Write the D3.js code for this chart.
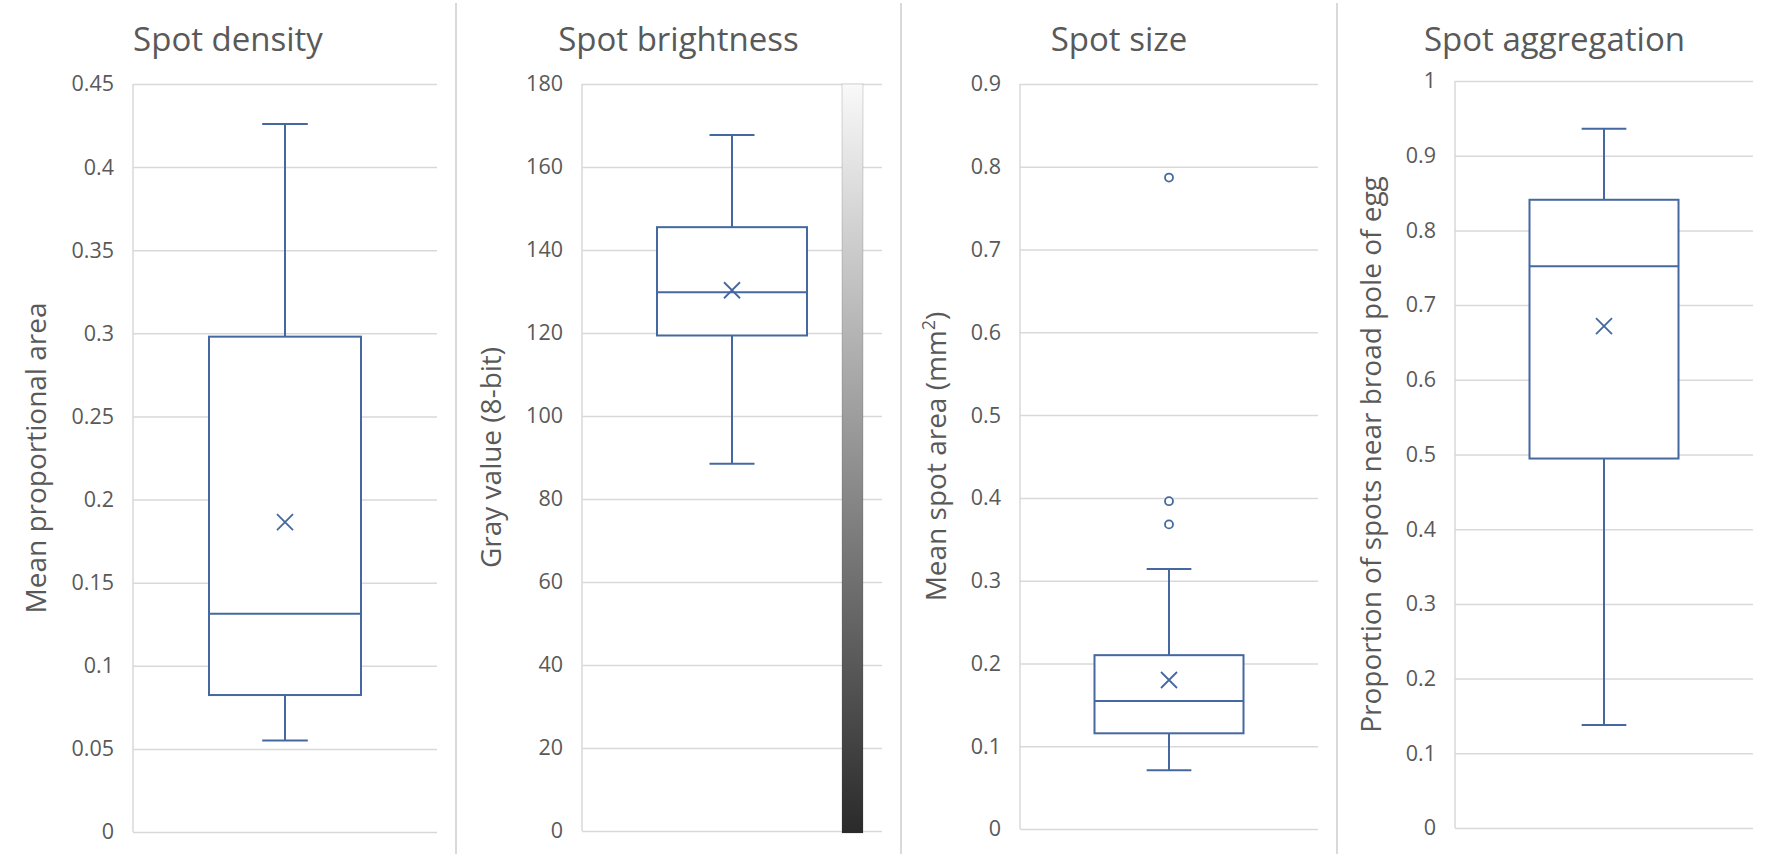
<!DOCTYPE html>
<html>
<head>
<meta charset="utf-8">
<script src="https://cdn.jsdelivr.net/npm/d3@7"></script>
<style>
  html, body { margin: 0; padding: 0; background: #ffffff; }
  svg { display: block; }
</style>
</head>
<body>
<svg id="chart" width="1772" height="860"></svg>
<script>
// ---------------- DATA ----------------
const panelTitles = ["Spot density", "Spot brightness", "Spot size", "Spot aggregation"];
const yAxisTitles = ["Mean proportional area", "Gray value (8-bit)", "Mean spot area (mm2)", "Proportion of spots near broad pole of egg"];
const tickLabels = [
  ["0", "0.05", "0.1", "0.15", "0.2", "0.25", "0.3", "0.35", "0.4", "0.45"],
  ["0", "20", "40", "60", "80", "100", "120", "140", "160", "180"],
  ["0", "0.1", "0.2", "0.3", "0.4", "0.5", "0.6", "0.7", "0.8", "0.9"],
  ["0", "0.1", "0.2", "0.3", "0.4", "0.5", "0.6", "0.7", "0.8", "0.9", "1"]
];
const whiskerLow  = [0.055, 88.5, 0.071, 0.138];
const quartile1   = [0.0824, 119.4, 0.1156, 0.4946];
const medians     = [0.1313, 129.8, 0.1546, 0.752];
const quartile3   = [0.298, 145.5, 0.21, 0.841];
const whiskerHigh = [0.426, 167.7, 0.314, 0.936];
const means       = [0.1864, 130.3, 0.18, 0.672];
const outliers    = [[], [], [0.787, 0.396, 0.368], []];

// ---------------- LAYOUT ----------------
const regionEdges = [0, 456, 901, 1337, 1772];
const plotLeft   = [133, 582, 1020, 1455];
const plotRight  = [437, 882, 1318, 1753];
const plotTop    = [84, 84, 84, 81];
const plotBottom = [832, 831, 829, 828];

const boxColor = "#44689f";
const gridColor = "#d9d9d9";
const textColor = "#595959";
const font = "'Open Sans', 'Noto Sans', sans-serif";

const svg = d3.select("#chart");

// gradient for the brightness scale bar
const defs = svg.append("defs");
const grad = defs.append("linearGradient").attr("id", "grayGrad")
  .attr("x1", 0).attr("y1", 0).attr("x2", 0).attr("y2", 1);
grad.append("stop").attr("offset", "0%").attr("stop-color", "#f9f9f9");
grad.append("stop").attr("offset", "100%").attr("stop-color", "#2a2a2a");

// separators between panels
[1, 2, 3].forEach(i => {
  svg.append("line")
    .attr("x1", regionEdges[i]).attr("x2", regionEdges[i])
    .attr("y1", 3).attr("y2", 854)
    .attr("stroke", gridColor).attr("stroke-width", 2);
});

panelTitles.forEach((title, i) => {
  const g = svg.append("g");
  const ticks = tickLabels[i];
  const maxV = +ticks[ticks.length - 1];
  const y = d3.scaleLinear().domain([0, maxV]).range([plotBottom[i], plotTop[i]]);
  const x = d3.scaleBand().domain([title]).range([plotLeft[i], plotRight[i]])
    .paddingInner(0).paddingOuter(0.5);
  const width = plotRight[i] - plotLeft[i];

  // title
  g.append("text")
    .attr("x", (regionEdges[i] + regionEdges[i + 1]) / 2)
    .attr("y", 51)
    .attr("text-anchor", "middle")
    .attr("font-family", font)
    .attr("font-size", 33)
    .attr("fill", textColor)
    .text(title);

  // y axis with gridlines
  const axis = d3.axisLeft(y)
    .tickValues(ticks.map(Number))
    .tickFormat((d, k) => ticks[k])
    .tickSize(-width)
    .tickPadding(19);
  const ag = g.append("g").attr("transform", `translate(${plotLeft[i]},0)`).call(axis);
  ag.select(".domain").remove();
  ag.selectAll(".tick line").attr("stroke", gridColor).attr("stroke-width", 1.5);
  ag.selectAll(".tick text")
    .attr("font-family", font).attr("font-size", 21.5).attr("fill", textColor);

  // vertical axis line
  g.append("line")
    .attr("x1", plotLeft[i]).attr("x2", plotLeft[i])
    .attr("y1", y(maxV)).attr("y2", y(0))
    .attr("stroke", gridColor).attr("stroke-width", 1.5);

  // axis title
  let minLabelX = Infinity;
  ag.selectAll(".tick text").each(function () {
    const b = this.getBBox();
    minLabelX = Math.min(minLabelX, plotLeft[i] + b.x);
  });
  const tx = minLabelX - 25;
  const ty = (y(0) + y(maxV)) / 2;
  const t = g.append("text")
    .attr("transform", `translate(${tx},${ty}) rotate(-90)`)
    .attr("text-anchor", "middle")
    .attr("font-family", font)
    .attr("font-size", 28)
    .attr("fill", textColor);
  const label = yAxisTitles[i];
  if (label.endsWith("(mm2)")) {
    t.append("tspan").text(label.slice(0, -2));
    t.append("tspan").attr("font-size", 18).attr("dy", -11).text("2");
    t.append("tspan").attr("dy", 11).text(")");
  } else {
    t.text(label);
  }

  // brightness colour bar
  if (i === 1) {
    g.append("rect")
      .attr("x", 842).attr("width", 21)
      .attr("y", y(maxV)).attr("height", y(0) - y(maxV) + 2)
      .attr("fill", "url(#grayGrad)")
      .attr("stroke", "#3a3a3a").attr("stroke-opacity", 0.25).attr("stroke-width", 0.8);
  }

  // box plot
  const bx = x(title);
  const bw = x.bandwidth();
  const cx = bx + bw / 2;
  const capW = bw * 0.3;
  const bg = g.append("g").attr("fill", "none").attr("stroke", boxColor).attr("stroke-width", 2);

  // whiskers
  bg.append("line").attr("x1", cx).attr("x2", cx).attr("y1", y(quartile3[i])).attr("y2", y(whiskerHigh[i]));
  bg.append("line").attr("x1", cx).attr("x2", cx).attr("y1", y(quartile1[i])).attr("y2", y(whiskerLow[i]));
  bg.append("line").attr("x1", cx - capW / 2).attr("x2", cx + capW / 2).attr("y1", y(whiskerHigh[i])).attr("y2", y(whiskerHigh[i]));
  bg.append("line").attr("x1", cx - capW / 2).attr("x2", cx + capW / 2).attr("y1", y(whiskerLow[i])).attr("y2", y(whiskerLow[i]));
  // box
  bg.append("rect").attr("x", bx).attr("width", bw)
    .attr("y", y(quartile3[i])).attr("height", y(quartile1[i]) - y(quartile3[i]))
    .attr("fill", "#ffffff");
  // median
  bg.append("line").attr("x1", bx).attr("x2", bx + bw).attr("y1", y(medians[i])).attr("y2", y(medians[i]));
  // mean X
  const my = y(means[i]);
  const s = 8;
  bg.append("path")
    .attr("d", `M${cx - s},${my - s}L${cx + s},${my + s}M${cx - s},${my + s}L${cx + s},${my - s}`)
    .attr("stroke-width", 1.8);
  // outliers
  bg.selectAll("circle.out").data(outliers[i]).enter().append("circle")
    .attr("class", "out")
    .attr("cx", cx).attr("cy", d => y(d)).attr("r", 4)
    .attr("fill", "#ffffff").attr("stroke-width", 1.8);
});
</script>
</body>
</html>
